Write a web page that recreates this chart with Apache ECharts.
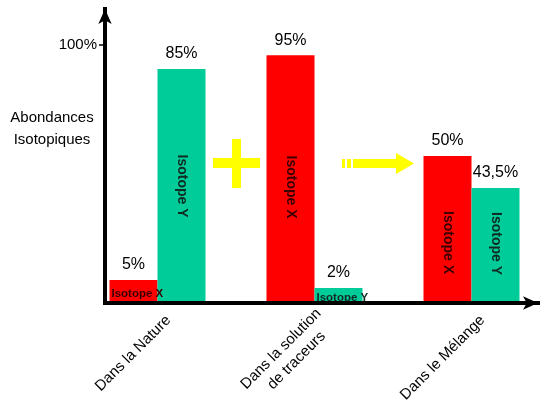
<!DOCTYPE html>
<html>
<head>
<meta charset="utf-8">
<script src="https://cdn.jsdelivr.net/npm/echarts@6/dist/echarts.min.js"></script>
<style>
  html, body { margin: 0; padding: 0; background: #fff; }
  #chart { width: 550px; height: 401px; }
</style>
</head>
<body>
<div id="chart"></div>
<script>
// catégories de l'axe X
var categories = ['Dans la Nature', 'Dans la solution\nde traceurs', 'Dans le Mélange'];
// pourcentages écrits au-dessus des barres
var pctX = [5, 95, 50];
var pctY = [85, 2, 43.5];
// hauteurs des barres telles que dessinées sur le schéma (en % de l'axe)
var heightX = [8.9, 96.1, 57];
var heightY = [90.7, 5.8, 44.6];
var yTicks = [100];
var isoNames = ['Isotope X', 'Isotope Y'];

var RED = '#ff0000', GREEN = '#00cc99', YELLOW = '#ffff00';
var FONT = 'Liberation Sans';
var Y_MAX = 114;
// décalage vers le bas des étiquettes internes (mise en page du schéma)
var labelShiftX = [0, 8, 13];
var labelShiftY = [0, 0, -2];

function fmtPct(v) {
  return String(v).replace('.', ',') + '%';
}

// barre + étiquette interne (verticale si la barre est haute, horizontale sinon)
function barSeries(heights, shifts, name, color, textColor, stack) {
  return {
    type: 'bar', xAxisIndex: 0, yAxisIndex: 0, stack: stack,
    barWidth: 48, barGap: '0%',
    itemStyle: { color: color },
    label: {
      show: true, formatter: name, position: 'inside', rotate: -90,
      fontFamily: FONT, fontWeight: 'bold', fontSize: 14, color: textColor
    },
    data: heights.map(function (h, i) {
      // texte tourné de -90° : l'axe x local pointe vers le bas
      if (h > 15) return { value: h, label: { offset: [shifts[i], 0] } };
      return {
        value: h,
        label: { position: 'insideLeft', rotate: 0, distance: 2, fontSize: 11.5, offset: [0, 2] }
      };
    })
  };
}

// barre vide empilée, porte seulement le pourcentage
function pctSeries(pcts, stack) {
  return {
    type: 'bar', xAxisIndex: 0, yAxisIndex: 0, stack: stack,
    barWidth: 48, barGap: '0%',
    itemStyle: { color: 'transparent' },
    label: {
      show: true, position: 'top', distance: 7,
      fontFamily: FONT, fontSize: 16, color: '#000',
      formatter: function (p) { return fmtPct(pcts[p.dataIndex]); }
    },
    data: pcts.map(function () { return 0; })
  };
}

var chart = echarts.init(document.getElementById('chart'));

var option = {
  animation: false,
  grid: [
    { left: 79, right: 0, top: 9, bottom: 98, outerBoundsMode: 'none' },
    { left: 105, right: 12, top: 9, bottom: 98, outerBoundsMode: 'none' },
    { left: 90, right: -11, top: 9, bottom: 98, outerBoundsMode: 'none' }
  ],
  xAxis: [
    { gridIndex: 0, type: 'category', data: categories,
      axisLine: { show: false }, axisTick: { show: false }, axisLabel: { show: false } },
    { gridIndex: 1, type: 'value', min: 0, max: 1, z: 5,
      axisLine: { show: true, symbol: ['none', 'arrow'], symbolSize: [10, 15],
        lineStyle: { color: '#000', width: 4, cap: 'square' } },
      axisTick: { show: false }, axisLabel: { show: false }, splitLine: { show: false } },
    { gridIndex: 2, type: 'category', data: categories,
      axisLine: { show: false }, axisTick: { show: false },
      axisLabel: {
        interval: 0, rotate: 45, margin: 15,
        fontFamily: FONT, fontSize: 15, color: '#000', lineHeight: 19,
        formatter: function (v) {
          var lines = v.split('\n');
          return lines.map(function (s, i) { return i ? '{l2|' + s + '}' : s; }).join('\n');
        },
        rich: { l2: { fontFamily: FONT, fontSize: 15, color: '#000', lineHeight: 19, padding: [0, 13, 0, 0] } }
      } }
  ],
  yAxis: [
    { gridIndex: 0, type: 'value', min: 0, max: Y_MAX, show: false },
    { gridIndex: 1, type: 'value', min: 0, max: Y_MAX, z: 5,
      axisLine: { show: true, symbol: ['none', 'arrow'], symbolSize: [10, 15],
        lineStyle: { color: '#000', width: 4, cap: 'square' } },
      axisTick: { show: true, customValues: yTicks, length: 6, lineStyle: { color: '#000', width: 1.5 } },
      axisLabel: { customValues: yTicks, formatter: '{value}%', margin: 8,
        fontFamily: FONT, fontSize: 15, color: '#000' },
      splitLine: { show: false } },
    { gridIndex: 2, type: 'value', min: 0, max: Y_MAX, show: false }
  ],
  series: [
    barSeries(heightX, labelShiftX, isoNames[0], RED, '#3a0000', 'x'),
    pctSeries(pctX, 'x'),
    barSeries(heightY, labelShiftY, isoNames[1], GREEN, '#0f2a22', 'y'),
    pctSeries(pctY, 'y')
  ],
  graphic: [
    { type: 'text', x: 52, y: 129, z: 10,
      style: { text: 'Abondances\nIsotopiques', align: 'center', verticalAlign: 'middle',
        fontFamily: FONT, fontSize: 15, lineHeight: 22, fill: '#000' } },
    // signe +
    { type: 'rect', shape: { x: 213, y: 158, width: 47, height: 10 }, style: { fill: YELLOW } },
    { type: 'rect', shape: { x: 232, y: 139, width: 9, height: 49 }, style: { fill: YELLOW } },
    // flèche
    { type: 'rect', shape: { x: 342, y: 159, width: 3, height: 9 }, style: { fill: YELLOW } },
    { type: 'rect', shape: { x: 347, y: 159, width: 4, height: 9 }, style: { fill: YELLOW } },
    { type: 'polygon',
      shape: { points: [[353, 159], [396, 159], [396, 153], [414, 163.5], [396, 174], [396, 168], [353, 168]] },
      style: { fill: YELLOW } }
  ]
};

chart.setOption(option);
</script>
</body>
</html>
